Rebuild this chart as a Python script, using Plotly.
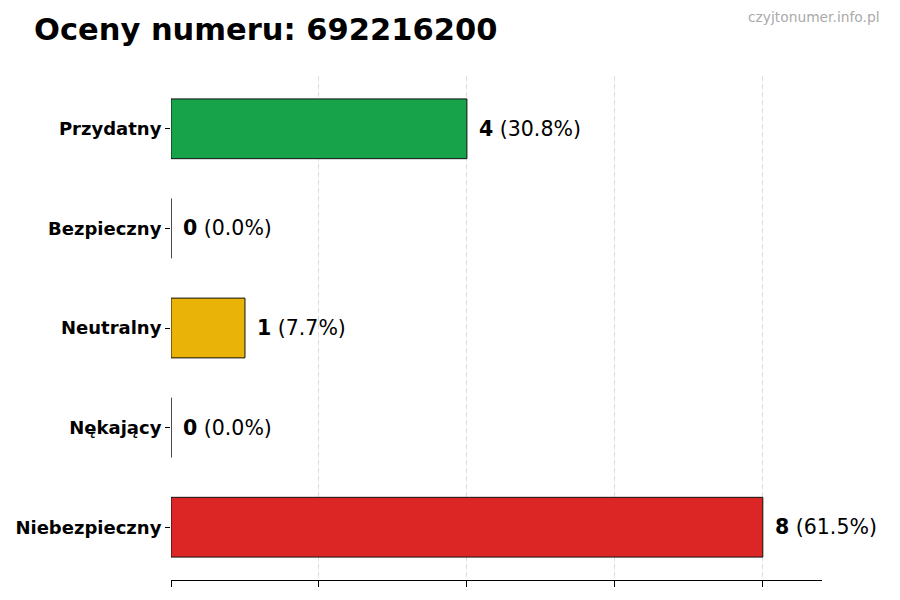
import plotly.graph_objects as go

# ratings for the number, listed top to bottom as shown
categories = ["Przydatny", "Bezpieczny", "Neutralny", "Nękający", "Niebezpieczny"]
counts = [4, 0, 1, 0, 8]
bar_colors = ["#16a34a", "#3b82f6", "#eab308", "#f97316", "#dc2626"]
x_ticks = [0, 2, 4, 6, 8]

title = "Oceny numeru: 692216200"
watermark = "czyjtonumer.info.pl"

total = sum(counts)
labels = [f"<b>{c}</b> ({c / total * 100:.1f}%)" for c in counts]

# page body has an 8px margin, so the figure is drawn 8px smaller
W, H = 892, 592

fig = go.Figure(
    go.Bar(
        x=counts,
        y=categories,
        orientation="h",
        width=0.6,
        marker=dict(color=bar_colors, line=dict(color="#111111", width=1)),
        hoverinfo="skip",
    )
)

for cat, c, lab in zip(categories, counts, labels):
    fig.add_annotation(
        x=c, y=cat, text=lab, showarrow=False,
        xanchor="left", yanchor="middle", xshift=10,
        font=dict(family="DejaVu Sans", size=20.5, color="#000000"),
    )

fig.update_layout(
    width=W,
    height=H,
    paper_bgcolor="white",
    plot_bgcolor="white",
    margin=dict(l=163, r=78, t=68, b=20),
    showlegend=False,
    title=dict(
        text=f"<b>{title}</b>",
        x=26 / W, xanchor="left",
        y=1 - 21 / H, yanchor="middle",
        font=dict(family="DejaVu Sans", size=30.5, color="#000000"),
    ),
    annotations=list(fig.layout.annotations) + [
        dict(
            text=watermark, xref="paper", yref="paper",
            x=1 + 60 / 651, y=1 + 59 / 504,
            xanchor="right", yanchor="middle", showarrow=False,
            font=dict(family="DejaVu Sans", size=13.8, color="#aaaaaa"),
        )
    ],
)

fig.update_xaxes(
    range=[0, 8.8],
    tickvals=x_ticks,
    showticklabels=False,
    ticks="outside",
    ticklen=6,
    tickcolor="#000000",
    showgrid=True,
    gridcolor="#dddddd",
    griddash="5px,3px",
    gridwidth=1,
    showline=True,
    linecolor="#000000",
    linewidth=1,
    zeroline=False,
    automargin=False,
)
fig.update_yaxes(
    categoryorder="array",
    categoryarray=categories[::-1],
    range=[-0.53, 4.53],
    ticks="outside",
    ticklen=5,
    tickcolor="#000000",
    showgrid=False,
    showline=False,
    zeroline=False,
    automargin=False,
    tickfont=dict(family="DejaVu Sans", size=18, color="#000000", weight="bold"),
)

fig.write_html("out.html")
